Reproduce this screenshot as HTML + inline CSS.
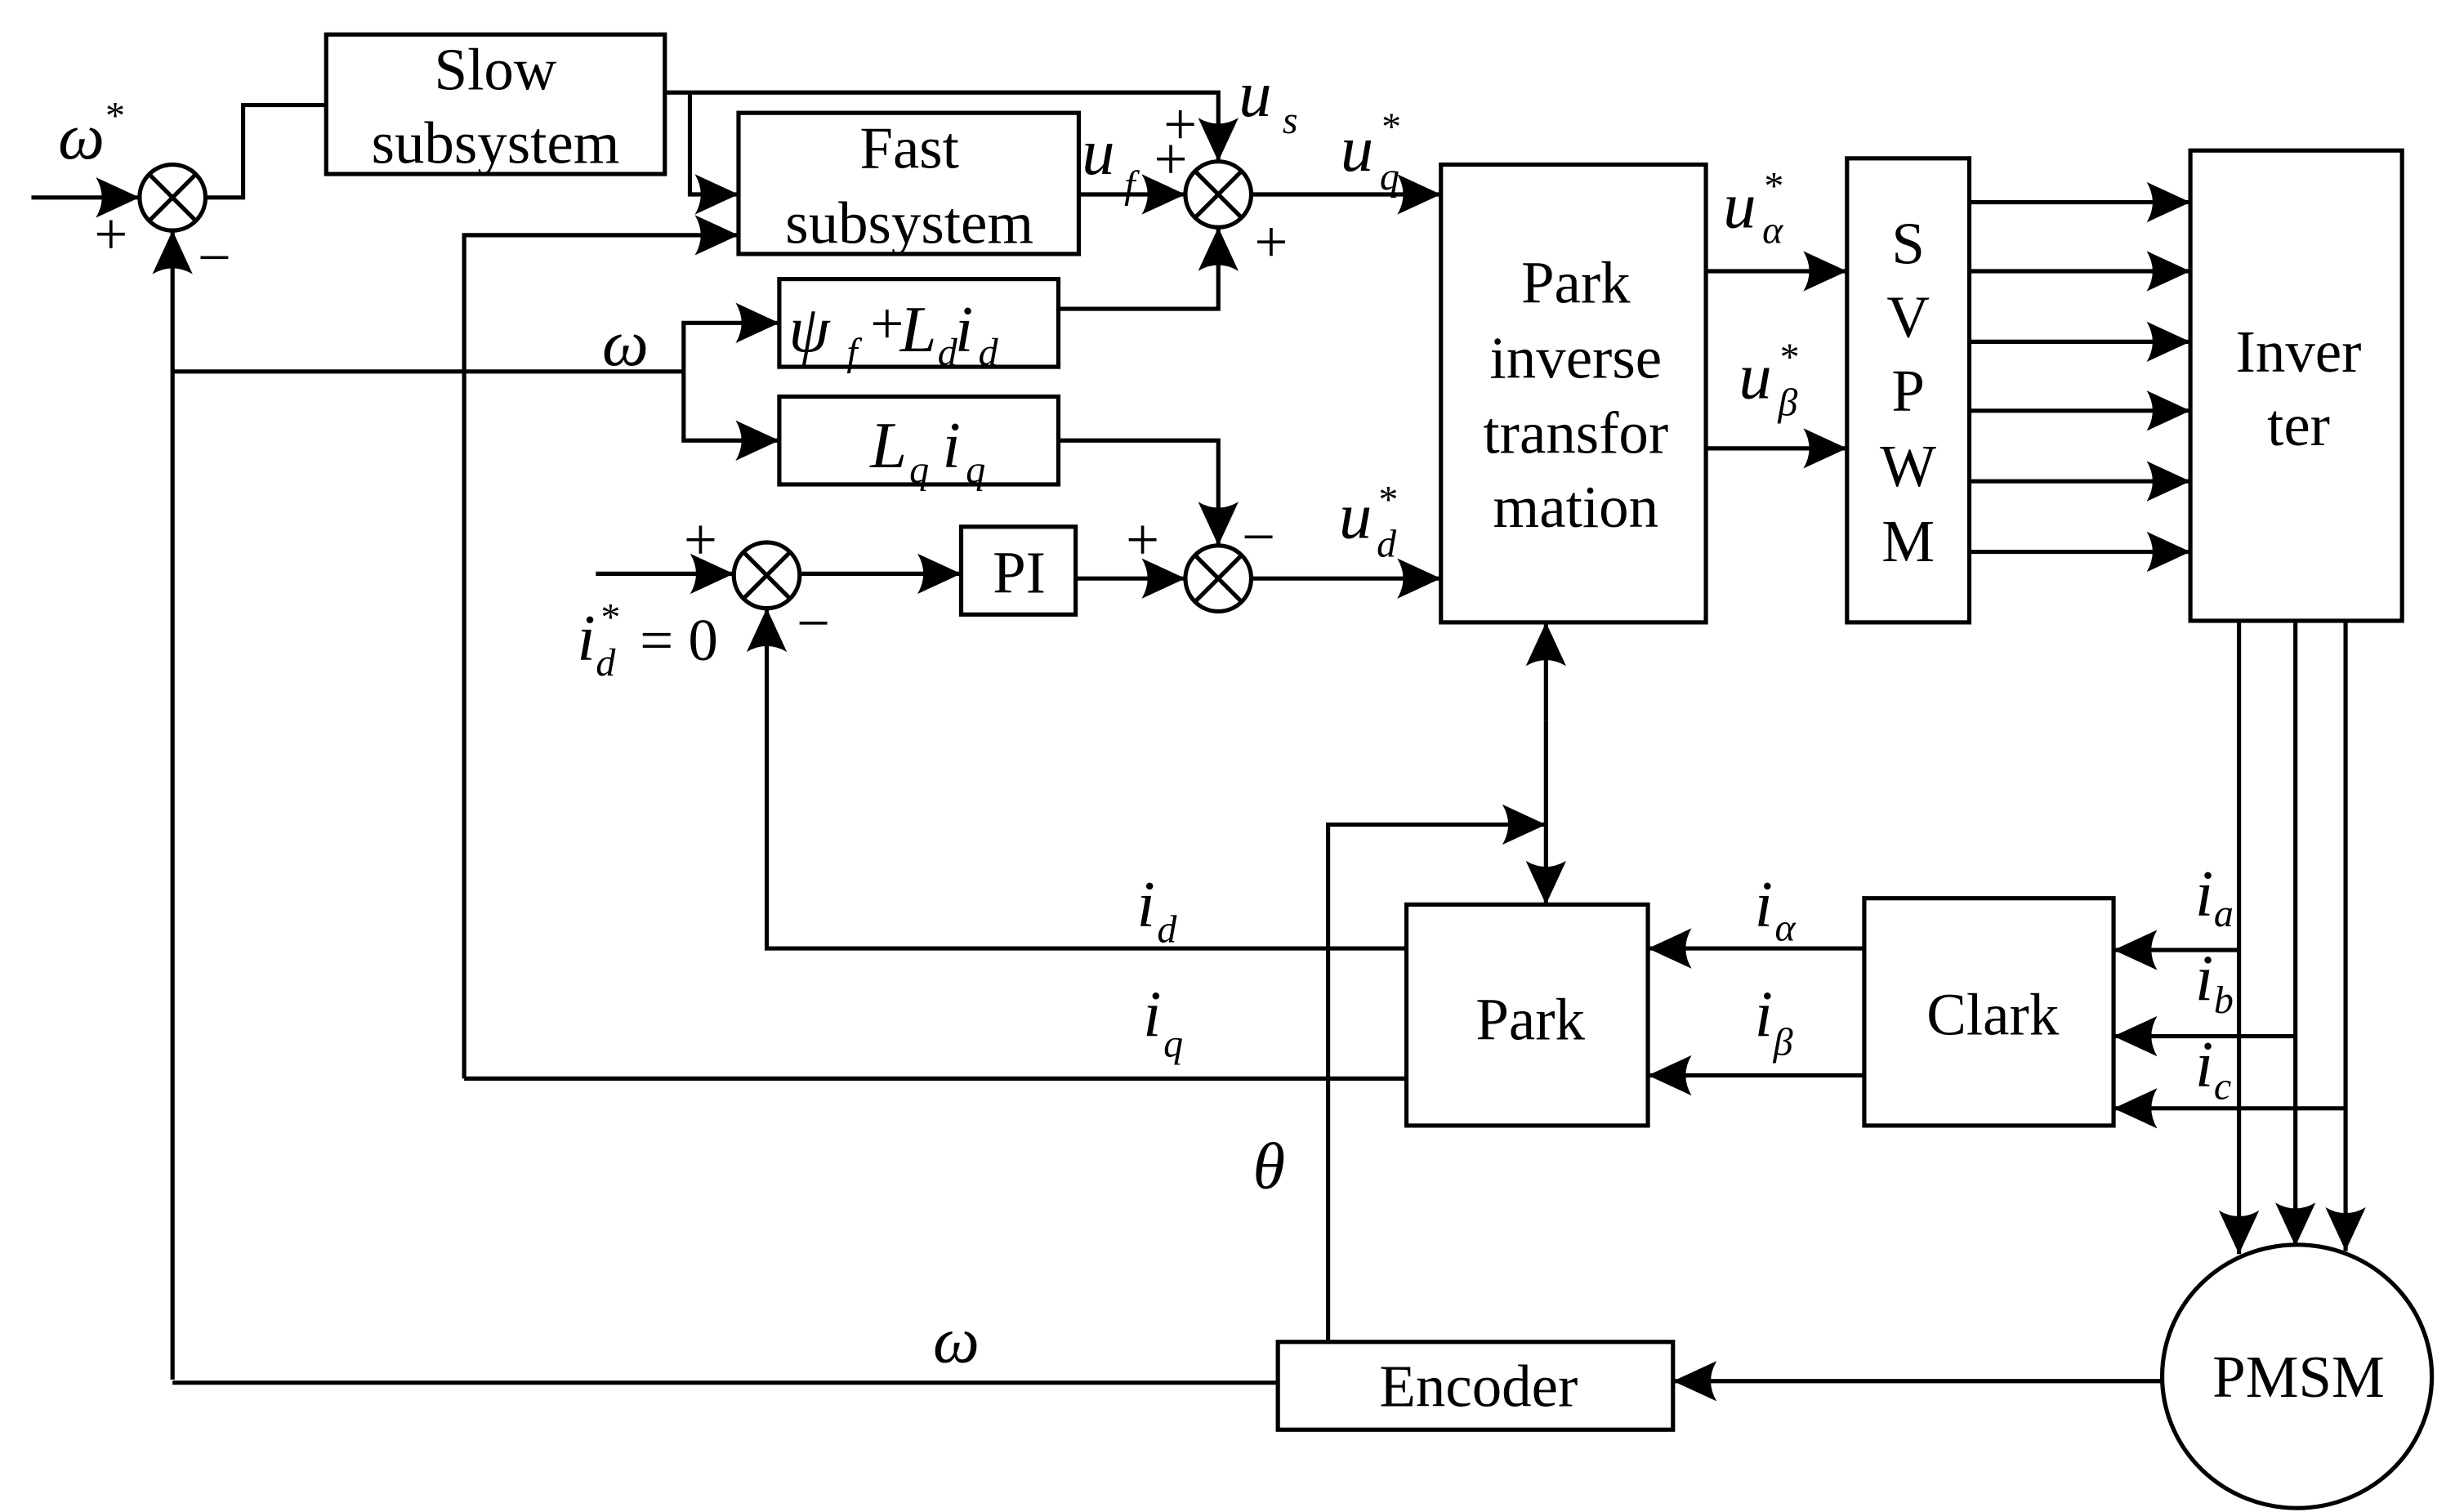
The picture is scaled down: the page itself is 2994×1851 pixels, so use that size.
<!DOCTYPE html>
<html><head><meta charset="utf-8"><style>
html,body{margin:0;padding:0;background:#fff;}
svg{display:block;}
text{font-family:"Liberation Serif",serif;fill:#000;}
.b{font-size:38px;text-anchor:middle;}
.m{font-style:italic;font-size:42px;}
.s{font-style:italic;font-size:25px;}
.p{font-size:38px;}
</style></head><body>
<svg width="2994" height="1851" viewBox="0 0 1560 964.5" xmlns="http://www.w3.org/2000/svg">
<defs>
<marker id="a" markerUnits="userSpaceOnUse" markerWidth="30" markerHeight="30" viewBox="-27 -13 28 26" refX="0" refY="0" orient="auto">
<path d="M0,0 L-26,-12 Q-19,0 -26,12 Z" fill="#000"/>
</marker>
</defs>
<g fill="none" stroke="#000" stroke-width="2.7">
<rect x="208" y="22" width="216" height="89"/>
<rect x="471" y="72" width="217" height="90"/>
<rect x="497" y="178" width="178" height="56"/>
<rect x="497" y="253" width="178" height="56"/>
<rect x="613" y="336" width="73" height="56"/>
<rect x="919" y="105" width="169" height="292"/>
<rect x="1178" y="101" width="78" height="296"/>
<rect x="1397" y="96" width="135" height="300"/>
<rect x="897" y="577" width="154" height="141"/>
<rect x="1189" y="573" width="159" height="145"/>
<rect x="815" y="856" width="252" height="56"/>
<ellipse cx="1465" cy="878" rx="86" ry="84"/>
<circle cx="110" cy="126" r="21"/>
<path d="M95,111 L125,141 M125,111 L95,141"/>
<circle cx="777" cy="124" r="21"/>
<path d="M762,109 L792,139 M792,109 L762,139"/>
<circle cx="489" cy="367" r="21"/>
<path d="M474,352 L504,382 M504,352 L474,382"/>
<circle cx="777" cy="369" r="21"/>
<path d="M762,354 L792,384 M792,354 L762,384"/>
<path d="M20,126 H89" marker-end="url(#a)"/>
<path d="M131,126 H155 V67 H208"/>
<path d="M424,59 H777 V103" marker-end="url(#a)"/>
<path d="M440,59 V124 H471" marker-end="url(#a)"/>
<path d="M296,688 V150 H471" marker-end="url(#a)"/>
<path d="M688,124 H756" marker-end="url(#a)"/>
<path d="M675,197 H777 V145" marker-end="url(#a)"/>
<path d="M798,124 H919" marker-end="url(#a)"/>
<path d="M110,880 V147" marker-end="url(#a)"/>
<path d="M110,237 H436"/>
<path d="M436,237 V206 H497" marker-end="url(#a)"/>
<path d="M436,237 V281 H497" marker-end="url(#a)"/>
<path d="M675,281 H777 V348" marker-end="url(#a)"/>
<path d="M380,366 H468" marker-end="url(#a)"/>
<path d="M510,366 H613" marker-end="url(#a)"/>
<path d="M686,369 H756" marker-end="url(#a)"/>
<path d="M798,369 H919" marker-end="url(#a)"/>
<path d="M897,605 H489 V388" marker-end="url(#a)"/>
<path d="M897,688 H296"/>
<path d="M1088,173 H1178" marker-end="url(#a)"/>
<path d="M1088,286 H1178" marker-end="url(#a)"/>
<path d="M1256,129 H1397" marker-end="url(#a)"/>
<path d="M1256,173 H1397" marker-end="url(#a)"/>
<path d="M1256,218 H1397" marker-end="url(#a)"/>
<path d="M1256,262 H1397" marker-end="url(#a)"/>
<path d="M1256,307 H1397" marker-end="url(#a)"/>
<path d="M1256,352 H1397" marker-end="url(#a)"/>
<path d="M986,460 V397" marker-end="url(#a)"/>
<path d="M986,460 V577" marker-end="url(#a)"/>
<path d="M847,856 V526 H986" marker-end="url(#a)"/>
<path d="M1189,605 H1051" marker-end="url(#a)"/>
<path d="M1189,686 H1051" marker-end="url(#a)"/>
<path d="M1428,396 V800" marker-end="url(#a)"/>
<path d="M1464,396 V795" marker-end="url(#a)"/>
<path d="M1496,396 V798" marker-end="url(#a)"/>
<path d="M1428,606 H1348" marker-end="url(#a)"/>
<path d="M1464,661 H1348" marker-end="url(#a)"/>
<path d="M1496,707 H1348" marker-end="url(#a)"/>
<path d="M1379,881 H1067" marker-end="url(#a)"/>
<path d="M815,882 H110"/>
</g>
<text class="b" x="316" y="57">Slow</text>
<text class="b" x="316" y="104">subsystem</text>
<text class="b" x="580" y="107">Fast</text>
<text class="b" x="580" y="155">subsystem</text>
<text class="b" x="650" y="378">PI</text>
<text class="b" x="1005" y="193">Park</text>
<text class="b" x="1005" y="241">inverse</text>
<text class="b" x="1005" y="289">transfor</text>
<text class="b" x="1005" y="336">mation</text>
<text class="b" x="1217" y="168">S</text>
<text class="b" x="1217" y="215">V</text>
<text class="b" x="1217" y="262">P</text>
<text class="b" x="1217" y="310">W</text>
<text class="b" x="1217" y="358">M</text>
<text class="b" x="1466" y="237">Inver</text>
<text class="b" x="1466" y="284">ter</text>
<text class="b" x="976" y="663">Park</text>
<text class="b" x="1271" y="660">Clark</text>
<text class="b" x="943" y="897">Encoder</text>
<text class="b" x="1466" y="891">PMSM</text>
<text class="m" x="503" y="224">ψ</text><text class="s" x="540" y="233">f</text>
<text class="p" x="555" y="219">+</text><text class="m" x="574" y="224">L</text><text class="s" x="598" y="233">d</text><text class="m" x="609" y="224">i</text><text class="s" x="624" y="233">d</text>
<text class="m" x="555" y="298">L</text><text class="s" x="580" y="308">q</text><text class="m" x="601" y="298">i</text><text class="s" x="616" y="308">q</text>
<text class="m" x="37" y="101">ω</text><text class="s" x="66" y="82">*</text>
<text class="p" x="60" y="162">+</text>
<text class="p" x="126" y="177">−</text>
<text class="m" x="384" y="233">ω</text>
<text class="m" x="690" y="111">u</text><text class="s" x="717" y="126">f</text>
<text class="p" x="736" y="114">+</text>
<text class="p" x="742" y="92">+</text>
<text class="p" x="800" y="167">+</text>
<text class="m" x="790" y="74">u</text><text class="s" x="818" y="85">s</text>
<text class="m" x="855" y="109">u</text><text class="s" x="880" y="121">q</text><text class="s" x="880" y="89">*</text>
<text class="m" x="1099" y="145">u</text><text class="s" x="1124" y="155">α</text><text class="s" x="1124" y="127">*</text>
<text class="m" x="1109" y="254">u</text><text class="s" x="1134" y="265">β</text><text class="s" x="1134" y="236">*</text>
<text class="m" x="854" y="343">u</text><text class="s" x="878" y="355">d</text><text class="s" x="878" y="327">*</text>
<text class="p" x="436" y="357">+</text>
<text class="p" x="508" y="410">−</text>
<text class="p" x="718" y="357">+</text>
<text class="p" x="792" y="355">−</text>
<text class="m" x="368" y="421">i</text><text class="s" x="380" y="431">d</text><text class="s" x="382" y="402">*</text>
<text class="p" x="408" y="421">= 0</text>
<text class="m" x="725" y="591">i</text><text class="s" x="738" y="601">d</text>
<text class="m" x="729" y="661">i</text><text class="s" x="742" y="674">q</text>
<text class="m" x="1119" y="591">i</text><text class="s" x="1132" y="600">α</text>
<text class="m" x="1119" y="661">i</text><text class="s" x="1131" y="673">β</text>
<text class="m" x="1400" y="584">i</text><text class="s" x="1412" y="591">a</text>
<text class="m" x="1400" y="638">i</text><text class="s" x="1412" y="646">b</text>
<text class="m" x="1400" y="693">i</text><text class="s" x="1412" y="701">c</text>
<text class="m" x="799" y="758">θ</text>
<text class="m" x="595" y="869">ω</text>
</svg>
</body></html>
